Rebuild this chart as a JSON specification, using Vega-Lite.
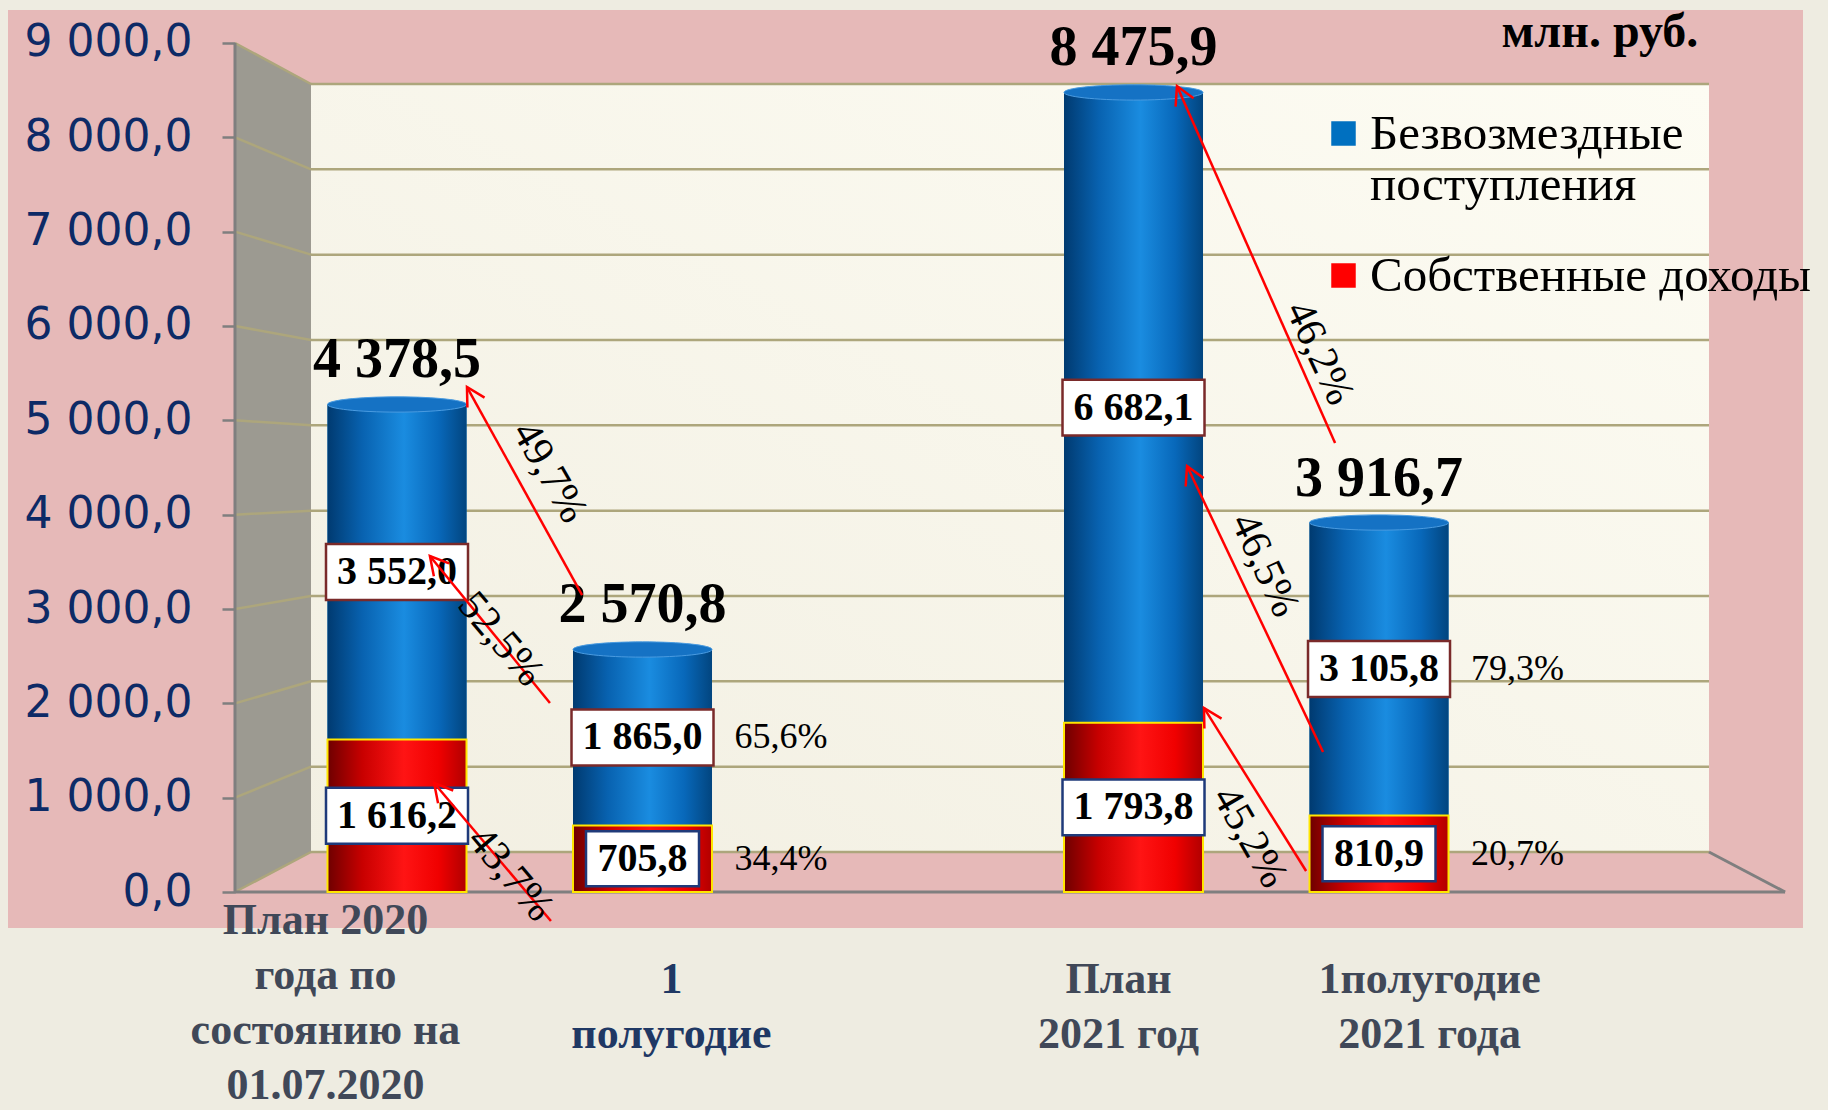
{
  "$schema": "https://vega.github.io/schema/vega-lite/v6.json",
  "width": 1795,
  "height": 918,
  "autosize": "none",
  "padding": {"left": 8, "top": 10, "right": 25, "bottom": 182},
  "background": "#EEECE1",
  "view": {"fill": "#E6B9B8", "stroke": null},
  "datasets": {
    "bars": [
      {"cat": "План 2020 года по состоянию на 01.07.2020", "pos": 1, "series": "Собственные доходы", "value": 1616.2, "label": "1 616,2", "share": null, "total": null},
      {"cat": "План 2020 года по состоянию на 01.07.2020", "pos": 1, "series": "Безвозмездные поступления", "value": 3552.0, "label": "3 552,0", "share": null, "total": "4 378,5"},
      {"cat": "1 полугодие", "pos": 2, "series": "Собственные доходы", "value": 705.8, "label": "705,8", "share": "34,4%", "total": null},
      {"cat": "1 полугодие", "pos": 2, "series": "Безвозмездные поступления", "value": 1865.0, "label": "1 865,0", "share": "65,6%", "total": "2 570,8"},
      {"cat": "План 2021 год", "pos": 4, "series": "Собственные доходы", "value": 1793.8, "label": "1 793,8", "share": null, "total": null},
      {"cat": "План 2021 год", "pos": 4, "series": "Безвозмездные поступления", "value": 6682.1, "label": "6 682,1", "share": null, "total": "8 475,9"},
      {"cat": "1полугодие 2021 года", "pos": 5, "series": "Собственные доходы", "value": 810.9, "label": "810,9", "share": "20,7%", "total": null},
      {"cat": "1полугодие 2021 года", "pos": 5, "series": "Безвозмездные поступления", "value": 3105.8, "label": "3 105,8", "share": "79,3%", "total": "3 916,7"}
    ],
    "arrows": [
      {"label": "49,7%", "x_from": 1.754, "y_from": 3148, "x_to": 1.285, "y_to": 5353, "x_text": 1.623, "y_text": 4452},
      {"label": "52,5%", "x_from": 1.623, "y_from": 2004, "x_to": 1.134, "y_to": 3562, "x_text": 1.424, "y_text": 2682},
      {"label": "43,7%", "x_from": 1.627, "y_from": -307, "x_to": 1.151, "y_to": 1155, "x_text": 1.464, "y_text": 191},
      {"label": "46,2%", "x_from": 4.821, "y_from": 4760, "x_to": 4.177, "y_to": 8543, "x_text": 4.759, "y_text": 5714},
      {"label": "46,5%", "x_from": 4.772, "y_from": 1484, "x_to": 4.218, "y_to": 4516, "x_text": 4.536, "y_text": 3466},
      {"label": "45,2%", "x_from": 4.703, "y_from": 223, "x_to": 4.287, "y_to": 1951, "x_text": 4.475, "y_text": 583}
    ],
    "gridvals": [{"v": 0}, {"v": 1000}, {"v": 2000}, {"v": 3000}, {"v": 4000}, {"v": 5000}, {"v": 6000}, {"v": 7000}, {"v": 8000}, {"v": 9000}]
  },
  "resolve": {"scale": {"x": "independent", "y": "independent"}},
  "layer": [
    {
      "layer": [
        {
          "data": {"values": [{}]},
          "mark": {"type": "rect", "stroke": null, "fill": {"gradient": "linear", "x1": 0, "y1": 1, "x2": 1, "y2": 0, "stops": [{"offset": 0, "color": "#F2EFE2"}, {"offset": 1, "color": "#FDFCF3"}]}},
          "encoding": {
            "x": {"datum": 0, "type": "quantitative", "scale": {"domain": [-0.21674, 1.06724], "nice": false, "zero": false, "padding": 0}, "axis": null},
            "x2": {"datum": 1},
            "y": {"datum": 0, "type": "quantitative", "scale": {"domain": [-890.6, 9867.2], "nice": false, "zero": false}, "axis": null},
            "y2": {"datum": 9000}
          }
        },
        {
          "data": {"name": "gridvals"},
          "mark": {"type": "rule", "color": "#ADA67C", "strokeWidth": 2.5},
          "encoding": {
            "x": {"datum": 0, "type": "quantitative", "axis": null},
            "x2": {"datum": 1},
            "y": {"field": "v", "type": "quantitative", "axis": null}
          }
        }
      ]
    },
    {
      "layer": [
        {
          "data": {"values": [{}]},
          "mark": {"type": "point", "shape": "M-0.0895,-1L0.0895,-0.9034L0.0895,0.9058L-0.0895,1Z", "size": 720801, "filled": true, "fill": "#9C9A91", "opacity": 1, "strokeWidth": 0},
          "encoding": {
            "x": {"datum": 0.4949, "type": "quantitative", "title": null},
            "y": {"datum": 4500, "type": "quantitative", "title": null}
          }
        },
        {
          "data": {"values": [{}]},
          "mark": {"type": "point", "shape": "M-0.0895,1L0.0895,0.9058M-0.0895,0.7778L0.0895,0.7048M-0.0895,0.5556L0.0895,0.5037M-0.0895,0.3333L0.0895,0.3027M-0.0895,0.1111L0.0895,0.1017M-0.0895,-0.1111L0.0895,-0.0993M-0.0895,-0.3333L0.0895,-0.3003M-0.0895,-0.5556L0.0895,-0.5014M-0.0895,-0.7778L0.0895,-0.7024M-0.0895,-1L0.0895,-0.9034", "size": 720801, "filled": false, "stroke": "#ADA67C", "strokeWidth": 2.5, "opacity": 1},
          "encoding": {
            "x": {"datum": 0.4949, "type": "quantitative", "title": null},
            "y": {"datum": 4500, "type": "quantitative", "title": null}
          }
        },
        {
          "data": {"values": [{}]},
          "mark": {"type": "rule", "color": "#7F7F7F", "strokeWidth": 3},
          "encoding": {
            "x": {"datum": 0.3401, "type": "quantitative", "title": null},
            "y": {"datum": 0, "type": "quantitative", "title": null},
            "y2": {"datum": 9000}
          }
        },
        {
          "data": {"values": [{}]},
          "mark": {"type": "rule", "color": "#7F7F7F", "strokeWidth": 3},
          "encoding": {
            "x": {"datum": 0.3401, "type": "quantitative", "title": null},
            "x2": {"datum": 6.654},
            "y": {"datum": 0, "type": "quantitative", "title": null}
          }
        },
        {
          "data": {"values": [{}]},
          "mark": {"type": "rule", "color": "#7F7F7F", "strokeWidth": 3},
          "encoding": {
            "x": {"datum": 6.344, "type": "quantitative", "title": null},
            "x2": {"datum": 6.654},
            "y": {"datum": 424, "type": "quantitative", "title": null},
            "y2": {"datum": 0}
          }
        },
        {
          "data": {"name": "bars"},
          "transform": [{"stack": "value", "groupby": ["pos"], "sort": [{"field": "series", "order": "descending"}], "as": ["y0", "y1"]}],
          "layer": [
            {
              "mark": {"type": "bar", "width": 139},
              "encoding": {
                "x": {
                  "field": "pos", "type": "quantitative", "title": null,
                  "scale": {"domain": [-0.5845, 6.727], "nice": false, "zero": false, "padding": 0},
                  "axis": {
                    "orient": "bottom", "values": [0.7067, 2.116, 3.937, 5.204],
                    "labelExpr": "datum.value < 1.5 ? ['План 2020', 'года по', 'состоянию на', '01.07.2020'] : datum.value < 3 ? ['1', 'полугодие'] : datum.value < 4.5 ? ['План', '2021 год'] : ['1полугодие', '2021 года']",
                    "domain": false, "ticks": false, "grid": false,
                    "labelPadding": {"condition": {"test": "datum.value < 1.5", "value": -8}, "value": 51},
                    "labelBaseline": "middle", "labelAlign": "center", "labelAngle": 0,
                    "labelFont": "Liberation Serif", "labelFontWeight": "bold", "labelFontSize": 44, "labelLineHeight": 55,
                    "labelColor": {"condition": {"test": "datum.value > 1.5 && datum.value < 3", "value": "#1F3864"}, "value": "#404858"},
                    "labelLimit": 0, "labelOverlap": false, "labelFlush": false, "title": null
                  }
                },
                "y": {
                  "field": "y0", "type": "quantitative", "title": null,
                  "scale": {"domain": [-381.6, 9349.8], "nice": false, "zero": false},
                  "axis": {
                    "orient": "left", "offset": -227, "values": [0, 1000, 2000, 3000, 4000, 5000, 6000, 7000, 8000, 9000],
                    "labelExpr": "replace(replace(format(datum.value, ',.1f'), ',', ' '), '.', ',')",
                    "domain": false, "grid": false, "ticks": true, "tickSize": 13, "tickColor": "#7F7F7F", "tickWidth": 2.5,
                    "labelFont": "DejaVu Sans", "labelFontSize": 44, "labelColor": "#0D2A66", "labelPadding": 30, "title": null
                  }
                },
                "y2": {"field": "y1"},
                "color": {
                  "field": "series", "type": "nominal",
                  "scale": {"domain": ["Безвозмездные поступления", "Собственные доходы"], "range": ["#0070C0", "#FF0000"]},
                  "legend": {
                    "orient": "none", "legendX": 1311, "legendY": 99, "title": null,
                    "symbolType": "square", "symbolSize": 600, "symbolStrokeWidth": 0, "symbolOpacity": 1,
                    "labelFont": "Liberation Serif", "labelFontSize": 49, "labelColor": "#000000", "labelLimit": 0, "labelOffset": 2,
                    "labelBaseline": "middle",
                    "labelExpr": "datum.label == 'Безвозмездные поступления' ? ['Безвозмездные', 'поступления'] : datum.label",
                    "rowPadding": 41, "padding": 0
                  }
                }
              }
            },
            {
              "transform": [{"filter": "datum.series == 'Безвозмездные поступления'"}],
              "mark": {"type": "bar", "width": 139, "fill": {"gradient": "linear", "x1": 0, "y1": 0, "x2": 1, "y2": 0, "stops": [{"offset": 0, "color": "#003A70"}, {"offset": 0.25, "color": "#0862B0"}, {"offset": 0.55, "color": "#1A8CE0"}, {"offset": 0.8, "color": "#0868BA"}, {"offset": 1, "color": "#02457F"}]}},
              "encoding": {
                "x": {"field": "pos", "type": "quantitative", "title": null},
                "y": {"field": "y0", "type": "quantitative", "title": null},
                "y2": {"field": "y1"}
              }
            },
            {
              "transform": [{"filter": "datum.series == 'Безвозмездные поступления'"}],
              "mark": {"type": "point", "shape": "M-1,0A1,0.11,0,1,0,1,0A1,0.11,0,1,0,-1,0Z", "size": 19321, "filled": true, "opacity": 1, "fill": "#1572C4", "stroke": "#4A9BE0", "strokeWidth": 1},
              "encoding": {
                "x": {"field": "pos", "type": "quantitative", "title": null},
                "y": {"field": "y1", "type": "quantitative", "title": null}
              }
            },
            {
              "transform": [{"filter": "datum.series == 'Собственные доходы'"}],
              "mark": {"type": "bar", "width": 139, "stroke": "#FFE600", "strokeWidth": 2, "fill": {"gradient": "linear", "x1": 0, "y1": 0, "x2": 1, "y2": 0, "stops": [{"offset": 0, "color": "#6E0000"}, {"offset": 0.25, "color": "#C80000"}, {"offset": 0.55, "color": "#FF1414"}, {"offset": 0.8, "color": "#F00000"}, {"offset": 1, "color": "#B00000"}]}},
              "encoding": {
                "x": {"field": "pos", "type": "quantitative", "title": null},
                "y": {"field": "y0", "type": "quantitative", "title": null},
                "y2": {"field": "y1"}
              }
            },
            {
              "transform": [{"filter": "datum.total != null"}],
              "mark": {"type": "text", "font": "Liberation Serif", "fontWeight": "bold", "fontSize": 56, "color": "#000000", "align": "center", "baseline": "middle", "dy": -44},
              "encoding": {
                "x": {"field": "pos", "type": "quantitative", "title": null},
                "y": {"field": "y1", "type": "quantitative", "title": null},
                "text": {"field": "total"}
              }
            }
          ]
        },
        {
          "data": {"name": "bars"},
          "mark": {"type": "point", "shape": "M-1,-0.394H1V0.394H-1Z", "size": 20164, "filled": true, "fill": "#FFFFFF", "strokeWidth": 2.5},
          "encoding": {
            "x": {"field": "pos", "type": "quantitative", "title": null},
            "y": {"field": "value", "type": "quantitative", "stack": "zero", "bandPosition": 0.5, "title": null},
            "order": {"field": "series", "sort": "descending"},
            "detail": {"field": "series"},
            "stroke": {"field": "series", "type": "nominal", "scale": {"domain": ["Безвозмездные поступления", "Собственные доходы"], "range": ["#7A2A2A", "#1F3A7A"]}, "legend": null},
            "opacity": {"condition": {"test": "length(datum.label) > 5", "value": 1}, "value": 0}
          }
        },
        {
          "data": {"name": "bars"},
          "mark": {"type": "point", "shape": "M-1,-0.487H1V0.487H-1Z", "size": 12769, "filled": true, "fill": "#FFFFFF", "strokeWidth": 2.5},
          "encoding": {
            "x": {"field": "pos", "type": "quantitative", "title": null},
            "y": {"field": "value", "type": "quantitative", "stack": "zero", "bandPosition": 0.5, "title": null},
            "order": {"field": "series", "sort": "descending"},
            "detail": {"field": "series"},
            "stroke": {"field": "series", "type": "nominal", "legend": null},
            "opacity": {"condition": {"test": "length(datum.label) <= 5", "value": 1}, "value": 0}
          }
        },
        {
          "data": {"name": "bars"},
          "mark": {"type": "text", "font": "Liberation Serif", "fontWeight": "bold", "fontSize": 40, "color": "#000000", "align": "center", "baseline": "middle"},
          "encoding": {
            "x": {"field": "pos", "type": "quantitative", "title": null},
            "y": {"field": "value", "type": "quantitative", "stack": "zero", "bandPosition": 0.5, "title": null},
            "order": {"field": "series", "sort": "descending"},
            "detail": {"field": "series"},
            "text": {"field": "label"}
          }
        },
        {
          "data": {"name": "bars"},
          "transform": [{"filter": "datum.share != null"}],
          "mark": {"type": "text", "font": "Liberation Serif", "fontSize": 36, "color": "#000000", "align": "left", "baseline": "middle", "dx": 92},
          "encoding": {
            "x": {"field": "pos", "type": "quantitative", "title": null},
            "y": {"field": "value", "type": "quantitative", "stack": "zero", "bandPosition": 0.5, "title": null},
            "order": {"field": "series", "sort": "descending"},
            "detail": {"field": "series"},
            "text": {"field": "share"}
          }
        },
        {
          "data": {"name": "arrows"},
          "mark": {"type": "rule", "color": "#FF0000", "strokeWidth": 2.5},
          "encoding": {
            "x": {"field": "x_from", "type": "quantitative", "title": null},
            "y": {"field": "y_from", "type": "quantitative", "title": null},
            "x2": {"field": "x_to"},
            "y2": {"field": "y_to"}
          }
        },
        {
          "data": {"name": "arrows"},
          "transform": [{"filter": "indexof(['52,5%', '43,7%'], datum.label) >= 0"}],
          "mark": {"type": "point", "shape": "M-0.55,1L0,0L0.55,1", "size": 1296, "filled": false, "stroke": "#FF0000", "strokeWidth": 2.5, "opacity": 1, "angle": -40},
          "encoding": {
            "x": {"field": "x_to", "type": "quantitative", "title": null},
            "y": {"field": "y_to", "type": "quantitative", "title": null}
          }
        },
        {
          "data": {"name": "arrows"},
          "transform": [{"filter": "indexof(['49,7%', '45,2%'], datum.label) >= 0"}],
          "mark": {"type": "point", "shape": "M-0.55,1L0,0L0.55,1", "size": 1296, "filled": false, "stroke": "#FF0000", "strokeWidth": 2.5, "opacity": 1, "angle": -30},
          "encoding": {
            "x": {"field": "x_to", "type": "quantitative", "title": null},
            "y": {"field": "y_to", "type": "quantitative", "title": null}
          }
        },
        {
          "data": {"name": "arrows"},
          "transform": [{"filter": "indexof(['46,2%', '46,5%'], datum.label) >= 0"}],
          "mark": {"type": "point", "shape": "M-0.55,1L0,0L0.55,1", "size": 1296, "filled": false, "stroke": "#FF0000", "strokeWidth": 2.5, "opacity": 1, "angle": -25},
          "encoding": {
            "x": {"field": "x_to", "type": "quantitative", "title": null},
            "y": {"field": "y_to", "type": "quantitative", "title": null}
          }
        },
        {
          "data": {"name": "arrows"},
          "transform": [{"filter": "indexof(['52,5%', '43,7%'], datum.label) >= 0"}],
          "mark": {"type": "text", "font": "Liberation Serif", "fontSize": 42, "color": "#000000", "align": "center", "baseline": "middle", "angle": 50},
          "encoding": {
            "x": {"field": "x_text", "type": "quantitative", "title": null},
            "y": {"field": "y_text", "type": "quantitative", "title": null},
            "text": {"field": "label"}
          }
        },
        {
          "data": {"name": "arrows"},
          "transform": [{"filter": "indexof(['49,7%', '45,2%'], datum.label) >= 0"}],
          "mark": {"type": "text", "font": "Liberation Serif", "fontSize": 42, "color": "#000000", "align": "center", "baseline": "middle", "angle": 60},
          "encoding": {
            "x": {"field": "x_text", "type": "quantitative", "title": null},
            "y": {"field": "y_text", "type": "quantitative", "title": null},
            "text": {"field": "label"}
          }
        },
        {
          "data": {"name": "arrows"},
          "transform": [{"filter": "indexof(['46,2%', '46,5%'], datum.label) >= 0"}],
          "mark": {"type": "text", "font": "Liberation Serif", "fontSize": 42, "color": "#000000", "align": "center", "baseline": "middle", "angle": 65},
          "encoding": {
            "x": {"field": "x_text", "type": "quantitative", "title": null},
            "y": {"field": "y_text", "type": "quantitative", "title": null},
            "text": {"field": "label"}
          }
        },
        {
          "data": {"values": [{"unit": "млн. руб."}]},
          "mark": {"type": "text", "font": "Liberation Serif", "fontWeight": "bold", "fontSize": 48, "color": "#000000", "align": "center", "baseline": "middle"},
          "encoding": {
            "x": {"datum": 5.9, "type": "quantitative", "title": null},
            "y": {"datum": 9106, "type": "quantitative", "title": null},
            "text": {"field": "unit"}
          }
        }
      ]
    }
  ]
}
